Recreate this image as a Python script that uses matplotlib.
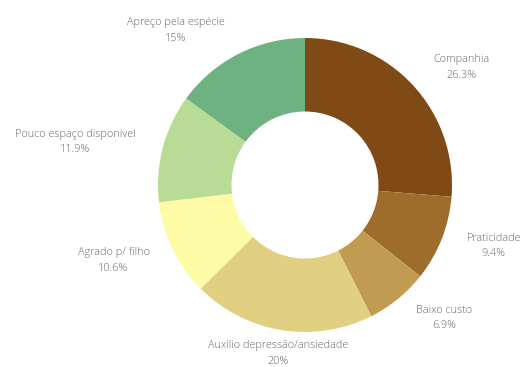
import matplotlib
matplotlib.use("Agg")
import matplotlib.pyplot as plt
import numpy as np

categories = ["Companhia", "Praticidade", "Baixo custo",
              "Auxilio depressão/ansiedade", "Agrado p/ filho",
              "Pouco espaço disponivel", "Apreço pela espécie"]
shares = [26.3, 9.4, 6.9, 20.0, 10.6, 11.9, 15.0]
colors = ["#7f4a15", "#9e6d2c", "#c29b52", "#e1d081",
          "#fdfba4", "#b8dc95", "#6fb281"]

plt.rcParams['font.family'] = ['Open Sans', 'DejaVu Sans']

fig = plt.figure(figsize=(5.31, 3.67), dpi=100)
ax = fig.add_axes([0, 0, 1, 1])

cx, cy, r = 305, 367 - 185, 147
wedges, _ = ax.pie(shares, colors=colors, startangle=90, counterclock=False,
                   radius=r, center=(cx, cy), frame=True,
                   wedgeprops=dict(width=r * 0.5, linewidth=0))

def fmt(v):
    s = f"{v:.1f}"
    return (s[:-2] if s.endswith(".0") else s) + "%"

# radial distance (in radii) and angular nudge (deg) for each label
label_dist = [1.33, 1.35, 1.31, 1.16, 1.40, 1.59, 1.37]
label_turn = [-5.7, 3.6, 7.0, 0.0, -4.3, 4.0, 13.0]
for w, name, v, d, t in zip(wedges, categories, shares, label_dist, label_turn):
    ang = np.deg2rad((w.theta1 + w.theta2) / 2 + t)
    ax.text(cx + d * r * np.cos(ang), cy + d * r * np.sin(ang),
            f"{name}\n{fmt(v)}", ha="center", va="center",
            fontsize=7.8, color="#666666", linespacing=1.55,
            fontweight="light")

ax.set_xlim(0, 531)
ax.set_ylim(0, 367)
ax.set_aspect("equal")
ax.axis("off")
fig.savefig("out.png", dpi=100, facecolor="white")
